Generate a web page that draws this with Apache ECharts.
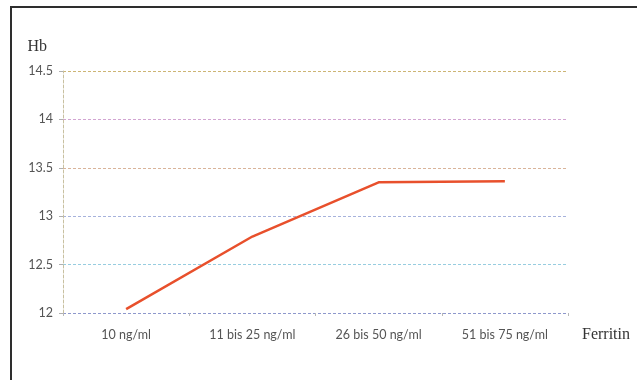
<!DOCTYPE html>
<html>
<head>
<meta charset="utf-8">
<script src="https://cdn.jsdelivr.net/npm/echarts@6/dist/echarts.min.js"></script>
<style>
  html, body { margin: 0; padding: 0; background: #fff; }
  #chart { width: 637px; height: 380px; }
</style>
</head>
<body>
<div id="chart"></div>
<script>
// Ferritin groups on the x axis, mean Hb per group
const categories = ['10 ng/ml', '11 bis 25 ng/ml', '26 bis 50 ng/ml', '51 bis 75 ng/ml'];
const hbValues = [12.04, 12.79, 13.35, 13.36];
const yTicks = { min: 12, max: 14.5, step: 0.5 };

// one tint per horizontal gridline, bottom to top
const gridTints = ['#8e98cc', '#97cde0', '#a6b2dc', '#d9b49a', '#d2a4d2', '#cdb574'];

const chart = echarts.init(document.getElementById('chart'), null, { renderer: 'canvas' });

chart.setOption({
  backgroundColor: '#ffffff',
  animation: false,
  graphic: [{
    type: 'rect',
    shape: { x: 11, y: 7, width: 700, height: 420 },
    style: { fill: 'none', stroke: '#2e2e2e', lineWidth: 2 },
    silent: true
  }],
  grid: { left: 63, top: 71, right: 69, bottom: 67 },
  xAxis: {
    type: 'category',
    data: categories,
    boundaryGap: true,
    name: 'Ferritin',
    nameLocation: 'end',
    nameGap: 14,
    nameTextStyle: {
      fontFamily: 'Liberation Serif', fontSize: 16, color: '#333',
      verticalAlign: 'top', align: 'left', padding: [14, 0, 0, 0]
    },
    axisLine: { show: false },
    axisTick: { show: true, alignWithLabel: false, length: 3, lineStyle: { color: '#b8b8b8' } },
    axisLabel: { fontFamily: 'Lato', fontSize: 12.5, color: '#555', margin: 15 },
    splitLine: { show: false }
  },
  yAxis: {
    type: 'value',
    min: yTicks.min,
    max: yTicks.max,
    interval: yTicks.step,
    name: 'Hb',
    nameLocation: 'end',
    nameGap: 16,
    nameTextStyle: {
      fontFamily: 'Liberation Serif', fontSize: 16, color: '#333',
      align: 'right', padding: [0, 16, 0, 0]
    },
    axisLine: { show: true, lineStyle: { color: '#c8c0a0', type: [3, 2], width: 1 } },
    axisTick: { show: true, length: 4, lineStyle: { color: '#b0b0b0' } },
    axisLabel: { fontFamily: 'Lato', fontSize: 12.5, color: '#555', margin: 10 },
    splitLine: { show: true, lineStyle: { color: gridTints, type: [3, 2], width: 1 } }
  },
  series: [{
    type: 'line',
    data: hbValues,
    showSymbol: false,
    symbol: 'none',
    lineStyle: { color: '#e8502c', width: 2.5 },
    z: 3
  }]
});
</script>
</body>
</html>
